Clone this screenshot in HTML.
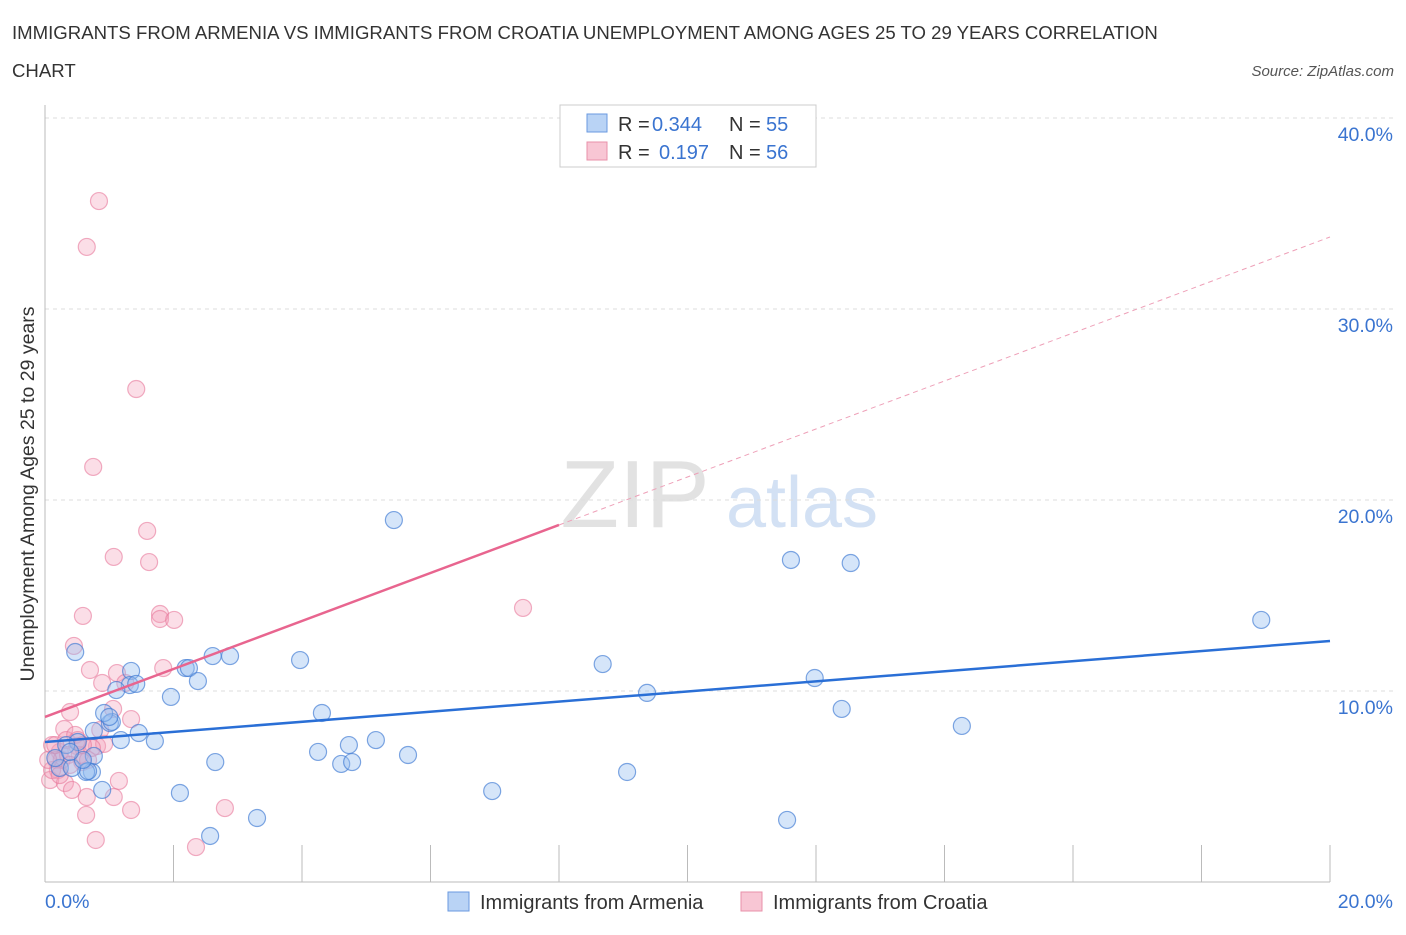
<!DOCTYPE html>
<html><head><meta charset="utf-8"><style>
body{margin:0;background:#fff;font-family:"Liberation Sans",sans-serif;}
svg text{font-family:"Liberation Sans",sans-serif;}
</style></head><body>
<svg id="c" width="1406" height="930">
<text x="12" y="39" font-size="18.6" fill="#333">IMMIGRANTS FROM ARMENIA VS IMMIGRANTS FROM CROATIA UNEMPLOYMENT AMONG AGES 25 TO 29 YEARS CORRELATION</text>
<text x="12" y="77" font-size="18.6" fill="#333">CHART</text>
<text x="1394" y="76" font-size="15" fill="#555" font-style="italic" text-anchor="end">Source: ZipAtlas.com</text>
<text x="635" y="527" font-size="96" fill="#e2e2e2" font-family="Liberation Serif" text-anchor="middle">ZIP</text>
<text x="802" y="527" font-size="72" fill="#d3e1f4" text-anchor="middle">atlas</text>
<g id="grid"></g>
<line x1="45" y1="105" x2="45" y2="882" stroke="#bbb"/>
<line x1="45" y1="882" x2="1330" y2="882" stroke="#bbb"/>
<text x="34" y="494" font-size="19.5" fill="#333" text-anchor="middle" transform="rotate(-90 34 494)">Unemployment Among Ages 25 to 29 years</text>
<text x="45" y="908" font-size="19.5" fill="#3a74d0">0.0%</text>
<text x="1393" y="908" font-size="19.5" fill="#3a74d0" text-anchor="end">20.0%</text>
<g id="pts"></g>
<g id="lines"></g>
<g>
<rect x="560" y="105" width="256" height="62" fill="#fff" stroke="#ccc"/>
<rect x="587" y="114" width="20" height="18" fill="#b9d3f5" stroke="#6a9ae0"/>
<text x="618" y="131" font-size="20" fill="#333">R =</text>
<text x="652" y="131" font-size="20" fill="#3a74d0">0.344</text>
<text x="729" y="131" font-size="20" fill="#333">N =</text>
<text x="766" y="131" font-size="20" fill="#3a74d0">55</text>
<rect x="587" y="142" width="20" height="18" fill="#f8c6d4" stroke="#e890aa"/>
<text x="618" y="159" font-size="20" fill="#333">R =</text>
<text x="659" y="159" font-size="20" fill="#3a74d0">0.197</text>
<text x="729" y="159" font-size="20" fill="#333">N =</text>
<text x="766" y="159" font-size="20" fill="#3a74d0">56</text>
</g>
<g>
<rect x="448" y="892" width="21" height="19" fill="#b9d3f5" stroke="#6a9ae0"/>
<text x="480" y="909" font-size="20" fill="#333">Immigrants from Armenia</text>
<rect x="741" y="892" width="21" height="19" fill="#f8c6d4" stroke="#e890aa"/>
<text x="773" y="909" font-size="20" fill="#333">Immigrants from Croatia</text>
</g>
</svg>
<script>
const yTicks=[10,20,30,40];
const yTickLabels=["10.0%","20.0%","30.0%","40.0%"];
const xTicks=[0,2,4,6,8,10,12,14,16,18,20];
const bluePx=[[75,652],[131,671],[130,685],[136,684],[116,690],[110,723],[112,722],[104,713],[109,717],[171,697],[186,668],[189,668],[198,681],[213,656],[230,656],[300,660],[322,713],[394,520],[318,752],[341,764],[349,745],[352,762],[376,740],[408,755],[155,741],[121,740],[139,733],[94,756],[92,772],[86,772],[102,790],[94,731],[88,771],[215,762],[180,793],[210,836],[257,818],[492,791],[603,664],[647,693],[627,772],[791,560],[851,563],[815,678],[842,709],[962,726],[787,820],[1261,620],[78,742],[66,745],[60,768],[55,758],[72,768],[83,760],[70,752]];
const pinkPx=[[99,201],[87,247],[136,389],[114,557],[93,467],[147,531],[149,562],[83,616],[160,614],[160,619],[174,620],[74,646],[163,668],[117,673],[90,670],[102,683],[125,683],[113,709],[131,719],[70,712],[64,729],[97,746],[77,746],[82,762],[60,752],[52,745],[56,760],[58,770],[50,780],[65,783],[72,790],[87,797],[86,815],[96,840],[131,810],[119,781],[114,797],[225,808],[196,847],[523,608],[104,744],[66,740],[75,735],[80,755],[62,760],[55,745],[68,755],[88,760],[52,770],[60,775],[70,765],[48,760],[92,748],[100,730],[78,740],[83,745]];
const armeniaX=bluePx.map(p=>+((p[0]-45)/1285*20).toFixed(2));
const armeniaY=bluePx.map(p=>+((882-p[1])/19.1).toFixed(2));
const croatiaX=pinkPx.map(p=>+((p[0]-45)/1285*20).toFixed(2));
const croatiaY=pinkPx.map(p=>+((882-p[1])/19.1).toFixed(2));
const armeniaTrend=[7.33,12.62];
const croatiaTrend=[8.64,33.77];
const croatiaSolidEnd=8.0;

const NS="http://www.w3.org/2000/svg";
const X=v=>45+v/20*1285, Y=v=>882-v*19.1;
function mk(t,a,p){const e=document.createElementNS(NS,t);for(const k in a)e.setAttribute(k,a[k]);p.appendChild(e);return e;}
const grid=document.getElementById('grid');
yTicks.forEach((t,i)=>{
 const l=mk('line',{x1:45,x2:1393,y1:Y(t),y2:Y(t),stroke:'#ddd','stroke-dasharray':'4,4'},grid);
 
 
 const tx=mk('text',{x:1393,y:Y(t)+23,'font-size':19.5,fill:'#3a74d0','text-anchor':'end'},grid);
 tx.textContent=yTickLabels[i];
 
 
});
xTicks.forEach(t=>{
 const l=mk('line',{x1:X(t),x2:X(t),y1:882,y2:t===0?882:845,stroke:'#bbb'},grid);
 
 
});
const pts=document.getElementById('pts');
croatiaX.forEach((x,i)=>{
 const c=mk('circle',{cx:X(x),cy:Y(croatiaY[i]),r:8.5,fill:'rgba(244,160,185,0.35)',stroke:'rgba(232,120,155,0.6)','stroke-width':1.2},pts);
 
 
});
armeniaX.forEach((x,i)=>{
 const c=mk('circle',{cx:X(x),cy:Y(armeniaY[i]),r:8.5,fill:'rgba(150,190,240,0.4)',stroke:'rgba(60,120,210,0.65)','stroke-width':1.2},pts);
 
 
});
const lines=document.getElementById('lines');
const bl=mk('line',{x1:X(0),y1:Y(armeniaTrend[0]),x2:X(20),y2:Y(armeniaTrend[1]),stroke:'#2a6fd6','stroke-width':2.5},lines);


const cy=x=>croatiaTrend[0]+(croatiaTrend[1]-croatiaTrend[0])*x/20;
const pl=mk('line',{x1:X(0),y1:Y(cy(0)),x2:X(croatiaSolidEnd),y2:Y(cy(croatiaSolidEnd)),stroke:'#e8658f','stroke-width':2.5},lines);


const pd=mk('line',{x1:X(croatiaSolidEnd),y1:Y(cy(croatiaSolidEnd)),x2:X(20),y2:Y(cy(20)),stroke:'#eea0b8','stroke-width':1,'stroke-dasharray':'5,4'},lines);


</script>
</body></html>
